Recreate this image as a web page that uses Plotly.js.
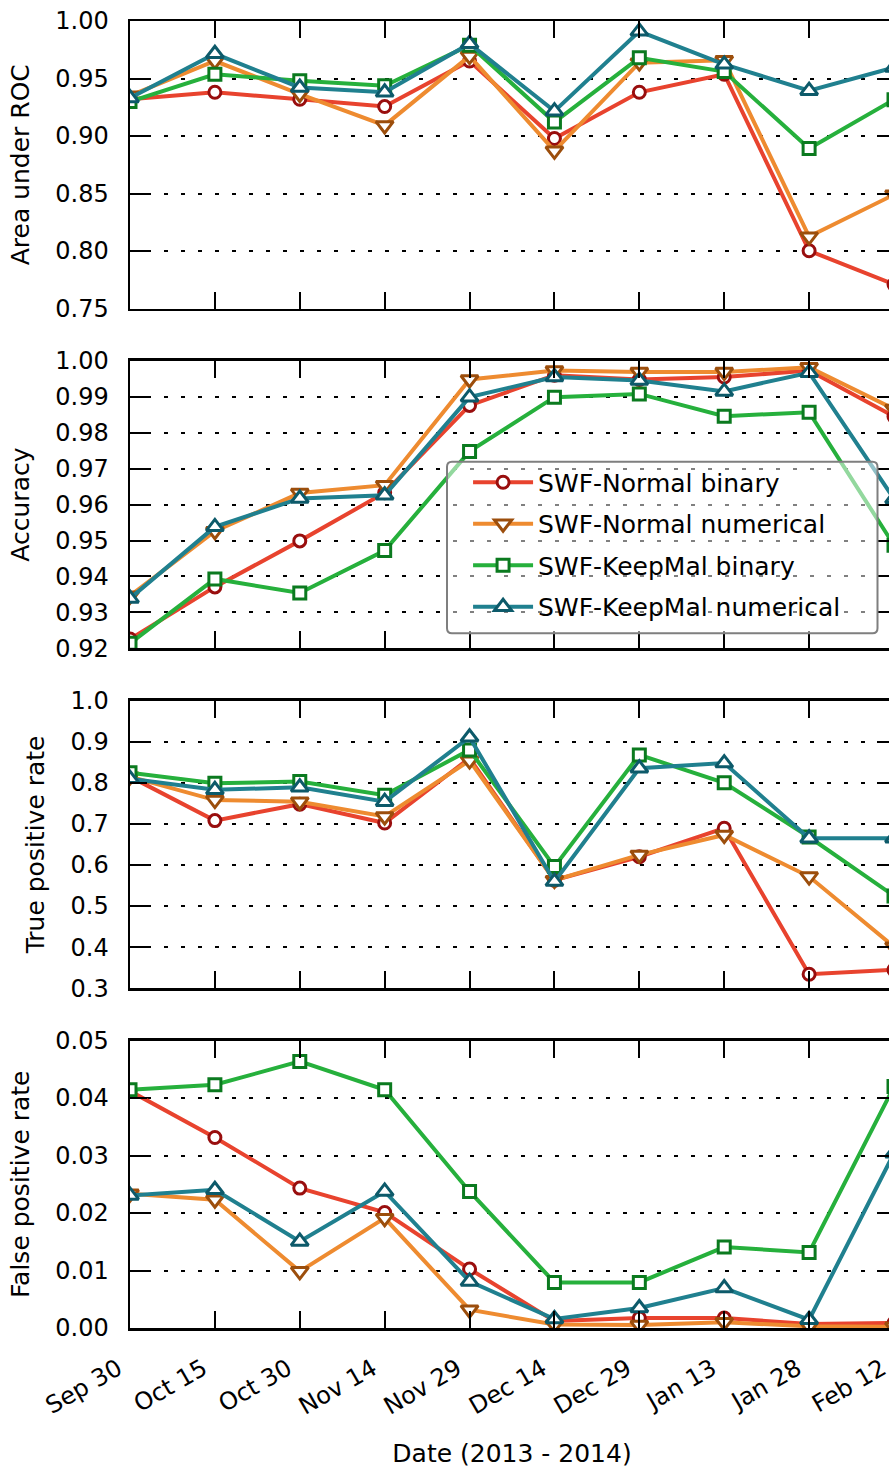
<!DOCTYPE html>
<html>
<head>
<meta charset="utf-8">
<script src="https://cdn.plot.ly/plotly-3.0.1.min.js"></script>
<style>
  html, body { margin: 0; padding: 0; overflow: hidden; background: #fff; }
  #chart { width: 900px; height: 1468px; }
</style>
</head>
<body>
<div id="chart"></div>
<script>
// Sampling dates (2013 - 2014)
const dates = ['Sep 30', 'Oct 15', 'Oct 30', 'Nov 14', 'Nov 29', 'Dec 14', 'Dec 29', 'Jan 13', 'Jan 28', 'Feb 12'];

const seriesNames = ['SWF-Normal binary', 'SWF-Normal numerical', 'SWF-KeepMal binary', 'SWF-KeepMal numerical'];

// Area under ROC
const aucNormalBinary     = [0.932, 0.938, 0.932, 0.9256, 0.9652, 0.8978, 0.938, 0.9537, 0.8002, 0.771];
const aucNormalNumerical  = [0.935, 0.9652, 0.9365, 0.9092, 0.9695, 0.8871, 0.9638, 0.9658, 0.8125, 0.849];
const aucKeepMalBinary    = [0.930, 0.9537, 0.948, 0.9437, 0.979, 0.9121, 0.968, 0.956, 0.8892, 0.9316];
const aucKeepMalNumerical = [0.933, 0.9715, 0.9422, 0.938, 0.9802, 0.9216, 0.991, 0.9623, 0.9394, 0.9595];

// Accuracy
const accNormalBinary     = [0.9226, 0.9371, 0.9499, 0.9633, 0.9876, 0.996, 0.9948, 0.9955, 0.9973, 0.9845];
const accNormalNumerical  = [0.9346, 0.9526, 0.9632, 0.9654, 0.9948, 0.9973, 0.9969, 0.9969, 0.9982, 0.9866];
const accKeepMalBinary    = [0.9214, 0.9393, 0.9354, 0.9472, 0.9748, 0.9899, 0.9908, 0.9846, 0.9857, 0.9487];
const accKeepMalNumerical = [0.9339, 0.9538, 0.9617, 0.9626, 0.9899, 0.9955, 0.9945, 0.9915, 0.9967, 0.9616];

// True positive rate
const tprNormalBinary     = [0.815, 0.708, 0.748, 0.702, 0.860, 0.563, 0.620, 0.6895, 0.334, 0.3446];
const tprNormalNumerical  = [0.815, 0.758, 0.754, 0.718, 0.854, 0.563, 0.6245, 0.673, 0.5717, 0.401];
const tprKeepMalBinary    = [0.8248, 0.799, 0.803, 0.770, 0.880, 0.596, 0.868, 0.800, 0.668, 0.5247];
const tprKeepMalNumerical = [0.810, 0.783, 0.789, 0.754, 0.911, 0.5595, 0.8355, 0.848, 0.665, 0.665];

// False positive rate
const fprNormalBinary     = [0.0412, 0.03314, 0.02433, 0.0201, 0.01025, 0.0012, 0.00174, 0.00174, 0.0007, 0.00087];
const fprNormalNumerical  = [0.02335, 0.0223, 0.00985, 0.0191, 0.00318, 0.0006, 0.0005, 0.001, 0.0003, 0.0002];
const fprKeepMalBinary    = [0.04143, 0.0423, 0.04636, 0.04143, 0.02375, 0.00793, 0.00793, 0.01408, 0.01315, 0.042];
const fprKeepMalNumerical = [0.02306, 0.02404, 0.01506, 0.02375, 0.0081, 0.00156, 0.00348, 0.00695, 0.00144, 0.0304];

const panels = [
  { title: 'Area under ROC',      range: [0.75, 1.0],  dtick: 0.05, fmt: '.2f',
    data: [aucNormalBinary, aucNormalNumerical, aucKeepMalBinary, aucKeepMalNumerical] },
  { title: 'Accuracy',            range: [0.92, 1.0],  dtick: 0.01, fmt: '.2f',
    data: [accNormalBinary, accNormalNumerical, accKeepMalBinary, accKeepMalNumerical] },
  { title: 'True positive rate',  range: [0.3, 1.0],   dtick: 0.1,  fmt: '.1f',
    data: [tprNormalBinary, tprNormalNumerical, tprKeepMalBinary, tprKeepMalNumerical] },
  { title: 'False positive rate', range: [0.0, 0.05],  dtick: 0.01, fmt: '.2f',
    data: [fprNormalBinary, fprNormalNumerical, fprKeepMalBinary, fprKeepMalNumerical] }
];

// line colour, marker edge colour, marker symbol per series
const styles = [
  { line: '#e8432e', edge: '#990e0e', symbol: 'circle',        size: 12 },
  { line: '#ee8b30', edge: '#9c4e0c', symbol: 'triangle-down', size: 15 },
  { line: '#26b03c', edge: '#0b7a1f', symbol: 'square',        size: 12 },
  { line: '#20808f', edge: '#0d5a6a', symbol: 'triangle-up',   size: 15 }
];

const FONT = 'DejaVu Sans, Verdana, sans-serif';
const xIdx = dates.map((d, i) => i);

const H = 1307, PANEL = 287.5;
const pitch = (H - PANEL) / 3;
const domains = [0, 1, 2, 3].map(k => {
  const top = k * pitch, bottom = top + PANEL;
  return [1 - bottom / H, 1 - top / H];
});

const traces = [];
panels.forEach((p, pi) => {
  const n = pi + 1;
  p.data.forEach((vals, si) => {
    const st = styles[si];
    traces.push({
      type: 'scatter',
      mode: 'lines+markers',
      x: xIdx,
      y: vals,
      xaxis: 'x' + (n === 1 ? '' : n),
      yaxis: 'y' + (n === 1 ? '' : n),
      name: seriesNames[si],
      legendgroup: seriesNames[si],
      showlegend: pi === 1,
      line: { color: st.line, width: 4 },
      marker: { symbol: st.symbol, size: st.size, color: '#ffffff',
                line: { color: st.edge, width: 3 } },
      hoverinfo: 'x+y'
    });
  });
});

const layout = {
  width: 900,
  height: 1468,
  margin: { l: 130, r: 6, t: 21, b: 140 },
  paper_bgcolor: '#ffffff',
  plot_bgcolor: '#ffffff',
  font: { family: FONT, size: 24, color: '#000' },
  showlegend: true,
  legend: {
    x: 0.4425, y: 0.6645, xanchor: 'left', yanchor: 'top',
    bgcolor: 'rgba(0,0,0,0)', borderwidth: 0,
    font: { family: FONT, size: 25, color: '#000' },
    traceorder: 'grouped', tracegroupgap: 6, itemwidth: 60
  },
  shapes: [],
  annotations: []
};

panels.forEach((p, pi) => {
  const n = pi + 1;
  const xs = n === 1 ? '' : n;
  const xa = {
    domain: [0, 1],
    anchor: 'y' + xs,
    range: [0, dates.length - 1],
    tickmode: 'array',
    tickvals: xIdx,
    ticktext: dates,
    ticks: 'inside', ticklen: 17, tickwidth: 2, tickcolor: '#000',
    showline: true, linecolor: '#000', linewidth: 2.5, mirror: 'ticks',
    showgrid: false, zeroline: false,
    showticklabels: pi === 3,
    tickangle: -30,
    ticklabeloverflow: 'allow',
    ticklabelshift: -12,
    tickfont: { family: FONT, size: 24, color: '#000' },
    ticklabelstandoff: 15
  };
  if (pi > 0) xa.matches = 'x';
  if (pi === 3) xa.title = { text: 'Date (2013 - 2014)', font: { family: FONT, size: 25, color: '#000' }, standoff: 25 };
  layout['xaxis' + xs] = xa;

  layout['yaxis' + xs] = {
    domain: domains[pi],
    anchor: 'x' + xs,
    range: p.range,
    dtick: p.dtick,
    tick0: p.range[0],
    tickformat: p.fmt,
    ticks: 'inside', ticklen: 17, tickwidth: 2, tickcolor: '#000',
    showline: true, linecolor: '#000', linewidth: 2.5, mirror: 'ticks',
    showgrid: true, gridcolor: '#000', gridwidth: 2, griddash: '4px,13px',
    zeroline: false,
    tickfont: { family: FONT, size: 24, color: '#000' },
    ticklabelstandoff: 14,
    title: { text: p.title, font: { family: FONT, size: 25, color: '#000' }, standoff: 19 }
  };
});

// rounded, semi-transparent frame behind the legend entries (paper coordinates)
(function () {
  const W = 764;
  const x0 = (447 - 130) / W, x1 = (877.5 - 130) / W;
  const yT = (1328 - 461.7) / H, yB = (1328 - 633.3) / H;
  const rx = 5 / W, ry = 5 / H;
  const path = `M${x0 + rx},${yT} L${x1 - rx},${yT} Q${x1},${yT} ${x1},${yT - ry} ` +
               `L${x1},${yB + ry} Q${x1},${yB} ${x1 - rx},${yB} L${x0 + rx},${yB} ` +
               `Q${x0},${yB} ${x0},${yB + ry} L${x0},${yT - ry} Q${x0},${yT} ${x0 + rx},${yT} Z`;
  layout.shapes.push({
    type: 'path', xref: 'paper', yref: 'paper', path: path, layer: 'above',
    fillcolor: 'rgba(255,255,255,0.5)', line: { color: '#7f7f7f', width: 2 }
  });
})();

Plotly.newPlot('chart', traces, layout, { displayModeBar: false, staticPlot: true });
</script>
</body>
</html>
